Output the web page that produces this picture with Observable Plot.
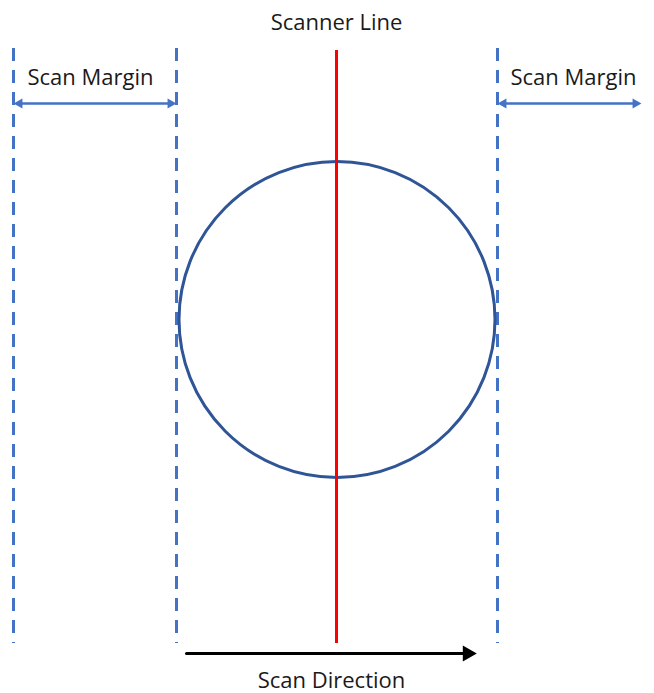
<!DOCTYPE html>
<html>
<head>
<meta charset="utf-8">
<script src="https://cdn.jsdelivr.net/npm/d3@7"></script>
<script src="https://cdn.jsdelivr.net/npm/@observablehq/plot@0.6"></script>
<style>
  html, body { margin: 0; padding: 0; background: #fff; }
  #chart svg { display: block; }
</style>
</head>
<body>
<div id="chart"></div>
<script>
// Diagram elements (pixel-space units of the drawing)
const marginLines = [
  {x: 13, y1: 48, y2: 643},
  {x: 176, y1: 48, y2: 643},
  {x: 497, y1: 48, y2: 643}
];
const scannerLine = [{x: 336, y1: 50, y2: 643}];
const scanObject = [{x: 336.5, y: 319}];
const marginArrows = [
  {x1: 14, x2: 175, y: 103},
  {x1: 498, x2: 640, y: 103}
];
const directionArrow = [{x1: 186, x2: 475, y: 653}];
const labels = [
  {text: "Scanner Line", x: 336, y: 22},
  {text: "Scan Margin", x: 90, y: 77},
  {text: "Scan Margin", x: 573, y: 77},
  {text: "Scan Direction", x: 331, y: 680}
];

const blue = "#4472C4";
const font = "'Open Sans', 'Noto Sans', sans-serif";

const chart = Plot.plot({
  width: 654,
  height: 693,
  margin: 0,
  x: {domain: [0, 654], range: [0, 654], axis: null},
  y: {domain: [0, 693], range: [0, 693], axis: null},
  style: {background: "#fff", fontFamily: font},
  marks: [
    Plot.ruleX(marginLines, {x: "x", y1: "y1", y2: "y2", stroke: blue, strokeWidth: 3, strokeDasharray: "13,9"}),
    Plot.dot(scanObject, {x: "x", y: "y", r: 158, stroke: "#2F5597", strokeWidth: 3, fill: "none"}),
    Plot.ruleX(scannerLine, {x: "x", y1: "y1", y2: "y2", stroke: "#FF0000", strokeWidth: 3}),
    // margin arrows (double-headed)
    Plot.arrow(marginArrows, {x1: "x1", y1: "y", x2: "x2", y2: "y", headLength: 0, insetStart: 5, insetEnd: 5, stroke: blue, strokeWidth: 2.5}),
    Plot.dot(marginArrows, {x: "x2", y: "y", symbol: "triangle", r: 3.8, rotate: 90, fill: blue, stroke: "none", dx: -5}),
    Plot.dot(marginArrows, {x: "x1", y: "y", symbol: "triangle", r: 3.8, rotate: -90, fill: blue, stroke: "none", dx: 5}),
    // scan direction arrow
    Plot.arrow(directionArrow, {x1: "x1", y1: "y", x2: "x2", y2: "y", headLength: 0, insetEnd: 8, stroke: "#000", strokeWidth: 3}),
    Plot.dot(directionArrow, {x: "x2", y: "y", symbol: "triangle", r: 6, rotate: 90, fill: "#000", stroke: "none", dx: -8}),
    Plot.text(labels, {x: "x", y: "y", text: "text", fontSize: 22, fill: "#1a1a1a", fontFamily: font})
  ]
});
document.getElementById("chart").appendChild(chart);
</script>
</body>
</html>
